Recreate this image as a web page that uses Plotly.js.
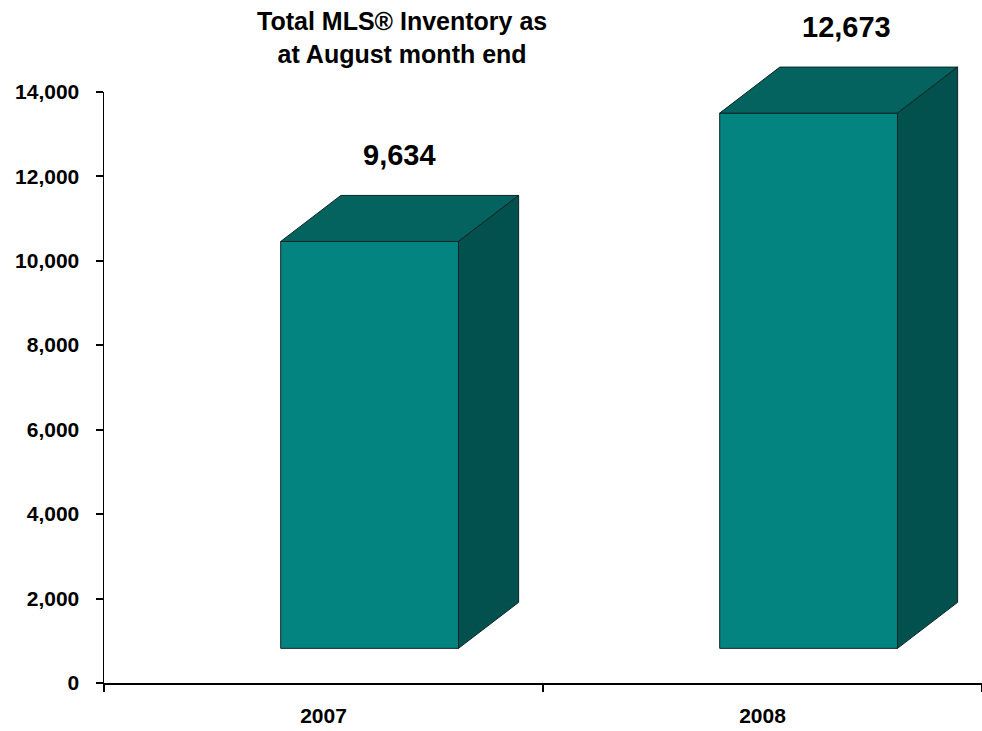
<!DOCTYPE html>
<html>
<head>
<meta charset="utf-8">
<script src="https://cdn.plot.ly/plotly-3.0.1.min.js"></script>
<style>html,body{margin:0;padding:0;background:#fff;}#chart{width:982px;height:731px;}</style>
</head>
<body>
<div id="chart"></div>
<script>
// ---- data ----
const categories = ['2007', '2008'];
const inventory = [9634, 12673];
const valueLabels = ['9,634', '12,673'];
const yTickVals = [0, 2000, 4000, 6000, 8000, 10000, 12000, 14000];
const yTickText = ['0', '2,000', '4,000', '6,000', '8,000', '10,000', '12,000', '14,000'];
const yMax = 14000;

// ---- style / layout constants ----
const floorLevel = 820;   // visual floor of the pseudo-3D bars
const frontOffset = 0.105;
const frontWidth = 0.405;
const depthX = 0.137;
const depthY = 1090;
const frontColor = '#048480';
const topColor = '#04625F';
const sideColor = '#03514F';
const edgeColor = '#0d2626';
const font = 'Liberation Sans, Arial, sans-serif';
const plotHeightPx = 683;      // plot area from page top to the x axis
const axisTopPx = 91.7;        // where 14,000 sits
const axisDomainTop = (plotHeightPx - axisTopPx) / plotHeightPx;
const y2Max = yMax / axisDomainTop;

const xPos = categories.map((c, i) => i + frontOffset);

const traces = [];
// front faces
traces.push({
  type: 'bar',
  x: xPos,
  y: inventory,
  base: floorLevel,
  width: frontWidth,
  xaxis: 'x', yaxis: 'y2',
  marker: {color: frontColor, line: {color: edgeColor, width: 1}},
  hoverinfo: 'skip',
  showlegend: false
});
// top and side faces
inventory.forEach((v, i) => {
  const xl = xPos[i] - frontWidth / 2;
  const xr = xPos[i] + frontWidth / 2;
  const top = floorLevel + v;
  traces.push({
    type: 'scatter', mode: 'lines', fill: 'toself', fillcolor: topColor,
    xaxis: 'x', yaxis: 'y2',
    x: [xl, xl + depthX, xr + depthX, xr, xl],
    y: [top, top + depthY, top + depthY, top, top],
    line: {color: edgeColor, width: 1}, hoverinfo: 'skip', showlegend: false
  });
  traces.push({
    type: 'scatter', mode: 'lines', fill: 'toself', fillcolor: sideColor,
    xaxis: 'x', yaxis: 'y2',
    x: [xr, xr + depthX, xr + depthX, xr, xr],
    y: [top, top + depthY, floorLevel + depthY, floorLevel, top],
    line: {color: edgeColor, width: 1}, hoverinfo: 'skip', showlegend: false
  });
});
// invisible traces so the axis subplots exist
traces.push({type: 'scatter', x: [-0.5, 1.5], y: [0, 0], xaxis: 'x', yaxis: 'y', mode: 'none', hoverinfo: 'skip', showlegend: false});
traces.push({type: 'scatter', x: [-0.5, 1.5], y: [0, 0], xaxis: 'x2', yaxis: 'y', mode: 'none', hoverinfo: 'skip', showlegend: false});

const labelShiftX = [0, 8];   // small horizontal nudges of the value labels (px)
const annotations = inventory.map((v, i) => ({
  x: xPos[i] + depthX / 2,
  y: floorLevel + v + depthY,
  xref: 'x', yref: 'y2',
  yshift: 40, xshift: labelShiftX[i],
  text: valueLabels[i],
  showarrow: false,
  xanchor: 'center', yanchor: 'middle',
  font: {family: font, size: 29, color: '#000', weight: 'bold'}
}));
annotations.push({
  text: 'Total MLS® Inventory as<br>at August month end',
  xref: 'paper', yref: 'paper',
  x: (402 - 104) / 878, y: 1, yshift: -5,
  xanchor: 'center', yanchor: 'top',
  showarrow: false,
  font: {family: font, size: 25, color: '#000', weight: 'bold'}
});

const layout = {
  width: 982, height: 731,
  margin: {l: 104, r: 0, t: 0, b: 48},
  paper_bgcolor: '#fff', plot_bgcolor: '#fff',
  showlegend: false,
  hovermode: false,
  xaxis: {
    range: [-0.5, 1.5], anchor: 'y',
    tickmode: 'array', tickvals: categories.map((c, i) => i), ticktext: categories,
    ticks: '', showgrid: false, zeroline: false,
    showline: true, linecolor: '#000', linewidth: 1.5,
    ticklabelstandoff: 13,
    tickfont: {family: font, size: 21, color: '#000', weight: 'bold'},
    fixedrange: true
  },
  xaxis2: {
    range: [-0.5, 1.5], overlaying: 'x', anchor: 'y',
    tickmode: 'array', tickvals: [-0.5, 0.5, 1.5],
    ticks: 'outside', ticklen: 8, tickwidth: 2, tickcolor: '#000',
    showticklabels: false, showgrid: false, zeroline: false, showline: false,
    fixedrange: true
  },
  yaxis: {
    domain: [0, axisDomainTop], anchor: 'x',
    range: [0, yMax],
    tickmode: 'array', tickvals: yTickVals, ticktext: yTickText,
    ticks: 'outside', ticklen: 7, tickwidth: 2, tickcolor: '#000',
    showgrid: false, zeroline: false,
    showline: true, linecolor: '#000', linewidth: 1.5,
    ticklabelstandoff: 12,
    tickfont: {family: font, size: 21, color: '#000', weight: 'bold'},
    fixedrange: true
  },
  yaxis2: {
    domain: [0, 1], anchor: 'x',
    range: [0, y2Max],
    visible: false, showgrid: false, zeroline: false,
    fixedrange: true
  },
  annotations: annotations
};

Plotly.newPlot('chart', traces, layout, {displayModeBar: false, staticPlot: true});
</script>
</body>
</html>
